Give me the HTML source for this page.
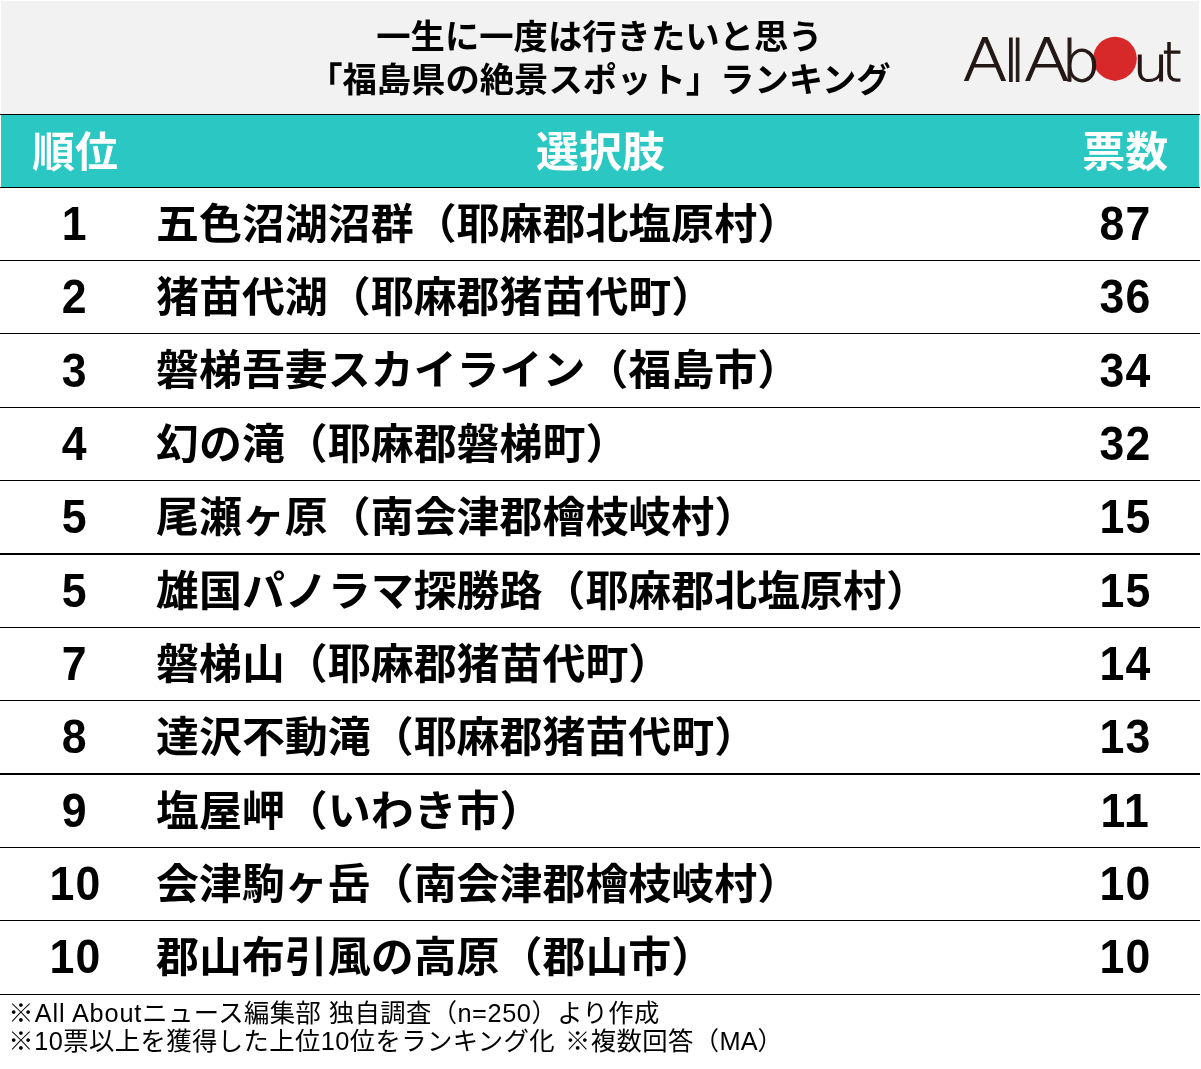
<!DOCTYPE html>
<html lang="ja">
<head>
<meta charset="utf-8">
<title>一生に一度は行きたいと思う「福島県の絶景スポット」ランキング</title>
<style>
html,body{margin:0;padding:0;background:#fff;}
body{width:1201px;height:1069px;position:relative;overflow:hidden;
  font-family:"Liberation Sans","Noto Sans CJK JP",sans-serif;color:#000;}
.abs{position:absolute;}
.hdr{left:1px;top:1px;width:1198px;height:113px;background:#f2f2f2;}
.title{left:-1.1px;top:15.5px;width:1201px;text-align:center;font-size:34.35px;line-height:43.4px;font-weight:700;white-space:nowrap;}
.band{left:1px;top:115px;width:1198px;height:72px;background:#2bc7c3;}
.ln{left:0;width:1200px;height:1px;background:#000;}
.th{color:#fff;font-weight:700;font-size:42.95px;line-height:72px;height:72px;top:115.7px;text-align:center;white-space:nowrap;}
.row{left:0;width:1201px;height:73px;font-weight:700;font-size:42.95px;line-height:73px;white-space:nowrap;}
.c1{left:0;width:150px;text-align:center;top:0;}
.c2{left:156px;top:0;}
.c3{left:1049px;width:150px;text-align:center;top:0;}
.num{font-size:47.2px;letter-spacing:1.2px;}
.num span{display:inline-block;transform:scaleX(.945);position:relative;left:0.2px;top:-0.9px;}
.c3.num span{left:1.6px;}
.sy{display:inline-block;transform:scaleY(.97);}
.note{left:8.2px;font-size:25.33px;line-height:28px;white-space:nowrap;letter-spacing:0.42px;}
.n2{word-spacing:2.6px;}
.la{letter-spacing:0.83px;margin-left:0.85px;word-spacing:0;}
.lb{margin-left:0.4px;}
.lc{letter-spacing:0.6px;}
.ld{letter-spacing:0;}
</style>
</head>
<body>
<div class="abs hdr"></div>
<div class="abs title">一生に一度は行きたいと思う<br>「福島県の絶景スポット」ランキング</div>
<svg class="abs" style="left:950px;top:20px" width="250" height="80" viewBox="950 20 250 80">
  <circle cx="1115" cy="58.6" r="21.8" fill="#d7282a"/>
  <text y="81" font-family="'DejaVu Sans',sans-serif" font-weight="200" fill="#231815" stroke="#231815" stroke-width="1.1" lengthAdjust="spacingAndGlyphs"><tspan x="962.65" font-size="58.6" textLength="44.7" lengthAdjust="spacingAndGlyphs">A</tspan><tspan x="1003.2" font-size="56.2">l</tspan><tspan x="1010.1" font-size="56.2">l</tspan><tspan x="1020" font-size="20"> </tspan><tspan x="1024" font-size="58.6" textLength="45.8" lengthAdjust="spacingAndGlyphs">A</tspan><tspan x="1061.1" font-size="56.2" textLength="39.6" lengthAdjust="spacingAndGlyphs">b</tspan><tspan x="1109" font-size="20" fill="#d7282a" stroke="none">o</tspan><tspan x="1132.2" font-size="47.5" textLength="36.7" lengthAdjust="spacingAndGlyphs">u</tspan><tspan x="1161.8" font-size="56" textLength="20.6" lengthAdjust="spacingAndGlyphs">t</tspan></text>
</svg>
<div class="abs ln" style="top:114px"></div>
<div class="abs band"></div>
<div class="abs th" style="left:0;width:150px"><span class="sy">順位</span></div>
<div class="abs th" style="left:150.5px;width:900px"><span class="sy">選択肢</span></div>
<div class="abs th" style="left:1050.3px;width:150px"><span class="sy">票数</span></div>
<div class="abs ln" style="top:187px"></div>
<div class="abs row" style="top:187.7px"><div class="abs c1 num"><span>1</span></div><div class="abs c2"><span class="sy">五色沼湖沼群（耶麻郡北塩原村）</span></div><div class="abs c3 num"><span>87</span></div></div>
<div class="abs ln" style="top:260px;height:1px"></div>
<div class="abs row" style="top:261.0px"><div class="abs c1 num"><span>2</span></div><div class="abs c2"><span class="sy">猪苗代湖（耶麻郡猪苗代町）</span></div><div class="abs c3 num"><span>36</span></div></div>
<div class="abs ln" style="top:333px;height:1px"></div>
<div class="abs row" style="top:334.4px"><div class="abs c1 num"><span>3</span></div><div class="abs c2"><span class="sy">磐梯吾妻スカイライン（福島市）</span></div><div class="abs c3 num"><span>34</span></div></div>
<div class="abs ln" style="top:407px;height:1px"></div>
<div class="abs row" style="top:407.8px"><div class="abs c1 num"><span>4</span></div><div class="abs c2"><span class="sy">幻の滝（耶麻郡磐梯町）</span></div><div class="abs c3 num"><span>32</span></div></div>
<div class="abs ln" style="top:480px;height:1px"></div>
<div class="abs row" style="top:481.1px"><div class="abs c1 num"><span>5</span></div><div class="abs c2"><span class="sy">尾瀬ヶ原（南会津郡檜枝岐村）</span></div><div class="abs c3 num"><span>15</span></div></div>
<div class="abs ln" style="top:553px;height:2px"></div>
<div class="abs row" style="top:554.5px"><div class="abs c1 num"><span>5</span></div><div class="abs c2"><span class="sy">雄国パノラマ探勝路（耶麻郡北塩原村）</span></div><div class="abs c3 num"><span>15</span></div></div>
<div class="abs ln" style="top:627px;height:1px"></div>
<div class="abs row" style="top:627.9px"><div class="abs c1 num"><span>7</span></div><div class="abs c2"><span class="sy">磐梯山（耶麻郡猪苗代町）</span></div><div class="abs c3 num"><span>14</span></div></div>
<div class="abs ln" style="top:700px;height:1px"></div>
<div class="abs row" style="top:701.2px"><div class="abs c1 num"><span>8</span></div><div class="abs c2"><span class="sy">達沢不動滝（耶麻郡猪苗代町）</span></div><div class="abs c3 num"><span>13</span></div></div>
<div class="abs ln" style="top:773px;height:2px"></div>
<div class="abs row" style="top:774.6px"><div class="abs c1 num"><span>9</span></div><div class="abs c2"><span class="sy">塩屋岬（いわき市）</span></div><div class="abs c3 num"><span>11</span></div></div>
<div class="abs ln" style="top:847px;height:1px"></div>
<div class="abs row" style="top:848.0px"><div class="abs c1 num"><span>10</span></div><div class="abs c2"><span class="sy">会津駒ヶ岳（南会津郡檜枝岐村）</span></div><div class="abs c3 num"><span>10</span></div></div>
<div class="abs ln" style="top:920px;height:1px"></div>
<div class="abs row" style="top:921.3px"><div class="abs c1 num"><span>10</span></div><div class="abs c2"><span class="sy">郡山布引風の高原（郡山市）</span></div><div class="abs c3 num"><span>10</span></div></div>
<div class="abs ln" style="top:994px;height:1px"></div>
<div class="abs note" style="top:999.4px">※<span class="la">All About</span>ニュース編集部 独自調査（<span class="lc">n=250</span>）より作成</div>
<div class="abs note n2" style="top:1026.9px">※<span class="lb">10</span>票以上を獲得した上位10位をランキング化 ※複数回答（<span class="ld">MA</span>）</div>
</body>
</html>
